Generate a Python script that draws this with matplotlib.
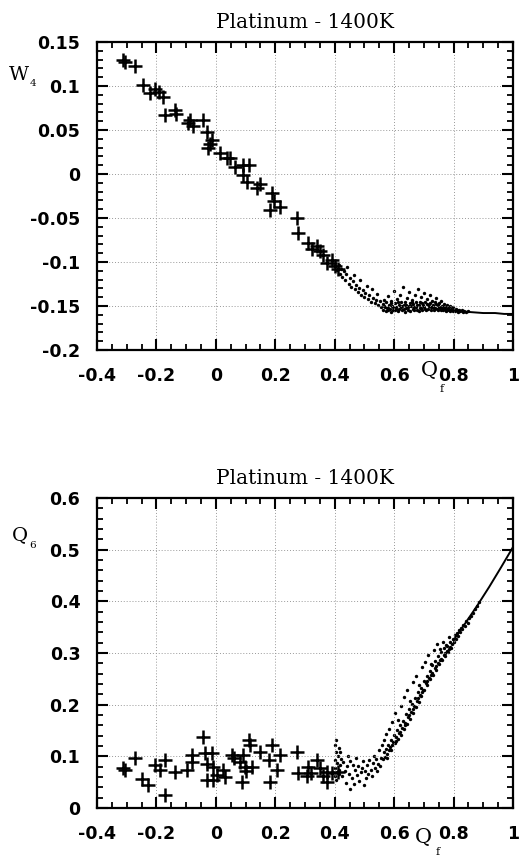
import matplotlib
matplotlib.use("Agg")
import matplotlib.pyplot as plt
from matplotlib.ticker import MultipleLocator

title = "Platinum - 1400K"
x_ticks = [-0.4, -0.2, 0, 0.2, 0.4, 0.6, 0.8, 1]
x_tick_labels = ["-0.4", "-0.2", "0", "0.2", "0.4", "0.6", "0.8", "1"]
w4_ticks = [0.15, 0.1, 0.05, 0, -0.05, -0.1, -0.15, -0.2]
w4_tick_labels = ["0.15", "0.1", "0.05", "0", "-0.05", "-0.1", "-0.15", "-0.2"]
q6_ticks = [0, 0.1, 0.2, 0.3, 0.4, 0.5, 0.6]
q6_tick_labels = ["0", "0.1", "0.2", "0.3", "0.4", "0.5", "0.6"]

# ---- top panel: W4 vs Qf ----
w4_plus_x = [-0.311, -0.305, -0.272, -0.244, -0.205, -0.222, -0.177, -0.190, -0.171, -0.137, -0.135,
             -0.087, -0.077, -0.095, -0.043, -0.031, -0.014, -0.026, -0.020, 0.014, 0.037, 0.047,
             0.065, 0.092, 0.110, 0.090, 0.104, 0.138, 0.149, 0.188, 0.183, 0.216, 0.195,
             0.272, 0.278, 0.311, 0.340, 0.350, 0.373, 0.390, 0.410, 0.400, 0.362, 0.325]
w4_plus_y = [0.129, 0.127, 0.123, 0.101, 0.097, 0.092, 0.088, 0.093, 0.067, 0.073, 0.068,
             0.061, 0.054, 0.058, 0.061, 0.048, 0.039, 0.030, 0.034, 0.024, 0.018, 0.018,
             0.008, 0.010, 0.010, -0.001, -0.009, -0.016, -0.011, -0.022, -0.041, -0.037, -0.031,
             -0.050, -0.067, -0.078, -0.082, -0.088, -0.101, -0.098, -0.108, -0.104, -0.092, -0.085]

w4_dots = [
    (0.402, -0.101), (0.408, -0.109), (0.413, -0.103), (0.417, -0.114), (0.421, -0.108), (0.426, -0.117),
    (0.431, -0.110), (0.434, -0.121), (0.438, -0.114), (0.443, -0.106), (0.447, -0.125), (0.452, -0.118),
    (0.455, -0.128), (0.461, -0.122), (0.464, -0.115), (0.468, -0.131), (0.473, -0.126), (0.477, -0.134),
    (0.481, -0.129), (0.486, -0.121), (0.489, -0.137), (0.494, -0.132), (0.498, -0.140), (0.503, -0.135),
    (0.507, -0.127), (0.512, -0.142), (0.516, -0.138), (0.521, -0.145), (0.525, -0.131), (0.529, -0.141),
    (0.534, -0.147), (0.538, -0.143), (0.543, -0.136), (0.547, -0.149), (0.551, -0.144), (0.556, -0.151),
    (0.561, -0.148), (0.563, -0.154), (0.566, -0.143), (0.568, -0.151), (0.571, -0.156), (0.574, -0.146),
    (0.576, -0.152), (0.579, -0.139), (0.581, -0.155), (0.584, -0.149), (0.586, -0.153), (0.589, -0.144),
    (0.591, -0.157), (0.594, -0.150), (0.597, -0.154), (0.599, -0.133), (0.602, -0.147), (0.604, -0.155),
    (0.607, -0.151), (0.609, -0.142), (0.612, -0.156), (0.615, -0.149), (0.617, -0.153), (0.619, -0.137),
    (0.622, -0.146), (0.625, -0.155), (0.627, -0.150), (0.629, -0.128), (0.632, -0.153), (0.635, -0.145),
    (0.637, -0.157), (0.639, -0.149), (0.642, -0.141), (0.645, -0.154), (0.647, -0.151), (0.649, -0.134),
    (0.652, -0.147), (0.655, -0.156), (0.657, -0.150), (0.659, -0.143), (0.662, -0.153), (0.665, -0.148),
    (0.667, -0.155), (0.669, -0.138), (0.672, -0.151), (0.675, -0.145), (0.677, -0.154), (0.679, -0.131),
    (0.682, -0.149), (0.685, -0.156), (0.687, -0.146), (0.689, -0.152), (0.692, -0.140), (0.695, -0.154),
    (0.697, -0.149), (0.699, -0.135), (0.702, -0.151), (0.705, -0.145), (0.707, -0.155), (0.709, -0.148),
    (0.712, -0.142), (0.715, -0.153), (0.717, -0.150), (0.719, -0.137), (0.722, -0.147), (0.725, -0.154),
    (0.727, -0.151), (0.729, -0.144), (0.732, -0.149), (0.735, -0.155), (0.737, -0.146), (0.739, -0.152),
    (0.742, -0.141), (0.745, -0.153), (0.747, -0.149), (0.749, -0.155), (0.752, -0.147), (0.755, -0.152),
    (0.757, -0.144), (0.759, -0.154), (0.762, -0.150), (0.765, -0.155), (0.767, -0.148), (0.769, -0.153),
    (0.772, -0.151), (0.775, -0.156), (0.777, -0.149), (0.779, -0.154), (0.782, -0.152), (0.785, -0.155),
    (0.787, -0.150), (0.789, -0.156), (0.792, -0.153), (0.795, -0.155), (0.797, -0.151), (0.799, -0.156),
    (0.803, -0.154), (0.806, -0.156), (0.809, -0.153), (0.812, -0.155), (0.816, -0.157), (0.819, -0.154),
    (0.823, -0.156), (0.827, -0.155), (0.831, -0.157), (0.836, -0.156), (0.842, -0.157), (0.848, -0.156),
    (0.565, -0.150), (0.578, -0.152), (0.588, -0.147), (0.596, -0.151), (0.606, -0.153), (0.614, -0.146),
    (0.623, -0.151), (0.634, -0.149), (0.641, -0.152), (0.651, -0.150), (0.661, -0.145), (0.668, -0.151),
    (0.676, -0.149), (0.686, -0.152), (0.694, -0.147), (0.703, -0.153), (0.713, -0.149), (0.723, -0.151),
    (0.733, -0.152), (0.741, -0.148), (0.751, -0.151), (0.761, -0.152), (0.771, -0.153),
]
w4_line_x = [0.78, 0.82, 0.86, 0.90, 0.94, 0.97, 1.00]
w4_line_y = [-0.154, -0.156, -0.157, -0.158, -0.158, -0.159, -0.159]

# ---- bottom panel: Q6 vs Qf ----
q6_plus_x = [-0.311, -0.305, -0.272, -0.250, -0.227, -0.205, -0.188, -0.171, -0.171, -0.137, -0.098,
             -0.081, -0.080, -0.042, -0.036, -0.014, -0.031, -0.030, -0.008, 0.003, -0.008, 0.025,
             0.030, 0.053, 0.060, 0.093, 0.080, 0.110, 0.115, 0.098, 0.100, 0.087, 0.120, 0.149,
             0.188, 0.180, 0.205, 0.216, 0.183, 0.272, 0.278, 0.306, 0.310, 0.340, 0.350, 0.373,
             0.373, 0.390, 0.410, 0.320, 0.360]
q6_plus_y = [0.077, 0.073, 0.096, 0.057, 0.045, 0.083, 0.074, 0.093, 0.025, 0.070, 0.074,
             0.103, 0.090, 0.137, 0.106, 0.106, 0.086, 0.054, 0.080, 0.064, 0.054, 0.074,
             0.060, 0.103, 0.096, 0.103, 0.090, 0.132, 0.122, 0.080, 0.072, 0.051, 0.080, 0.109,
             0.122, 0.093, 0.074, 0.103, 0.051, 0.109, 0.067, 0.061, 0.080, 0.093, 0.077, 0.070,
             0.051, 0.067, 0.070, 0.068, 0.062]

q6_dots = [
    (0.401, 0.062), (0.402, 0.078), (0.400, 0.093), (0.403, 0.108), (0.401, 0.121), (0.404, 0.131),
    (0.407, 0.070), (0.409, 0.088), (0.411, 0.101), (0.413, 0.116), (0.416, 0.066), (0.418, 0.083),
    (0.421, 0.095), (0.419, 0.109), (0.406, 0.055), (0.414, 0.074),
    (0.426, 0.061), (0.429, 0.089), (0.433, 0.072), (0.437, 0.049), (0.441, 0.081), (0.444, 0.100),
    (0.447, 0.066), (0.451, 0.091), (0.453, 0.036), (0.457, 0.058), (0.461, 0.084), (0.465, 0.046),
    (0.468, 0.074), (0.472, 0.096), (0.476, 0.063), (0.479, 0.081), (0.483, 0.053), (0.487, 0.069),
    (0.491, 0.077), (0.495, 0.091), (0.498, 0.044), (0.502, 0.071), (0.506, 0.058), (0.509, 0.083),
    (0.513, 0.066), (0.517, 0.093), (0.521, 0.074), (0.524, 0.061), (0.528, 0.088), (0.532, 0.101),
    (0.535, 0.077), (0.539, 0.094), (0.543, 0.071), (0.546, 0.086), (0.549, 0.112), (0.553, 0.082),
    (0.556, 0.097), (0.559, 0.121),
    (0.562, 0.094), (0.565, 0.108), (0.567, 0.131), (0.569, 0.099), (0.572, 0.115), (0.574, 0.143),
    (0.577, 0.104), (0.579, 0.121), (0.582, 0.112), (0.584, 0.152), (0.587, 0.118), (0.589, 0.131),
    (0.592, 0.121), (0.594, 0.166), (0.597, 0.128), (0.599, 0.142), (0.602, 0.125), (0.604, 0.183),
    (0.607, 0.138), (0.609, 0.151), (0.612, 0.133), (0.614, 0.171), (0.617, 0.146), (0.619, 0.161),
    (0.622, 0.142), (0.624, 0.197), (0.627, 0.155), (0.629, 0.169), (0.632, 0.152), (0.634, 0.214),
    (0.637, 0.164), (0.639, 0.181), (0.642, 0.162), (0.644, 0.228), (0.647, 0.176), (0.649, 0.192),
    (0.652, 0.173), (0.654, 0.207), (0.657, 0.186), (0.659, 0.201), (0.662, 0.183), (0.664, 0.243),
    (0.667, 0.197), (0.669, 0.213), (0.672, 0.195), (0.674, 0.256), (0.677, 0.208), (0.679, 0.224),
    (0.682, 0.205), (0.684, 0.238), (0.687, 0.219), (0.689, 0.233), (0.692, 0.216), (0.694, 0.272),
    (0.697, 0.229), (0.699, 0.246), (0.702, 0.228), (0.704, 0.283), (0.707, 0.241), (0.709, 0.256),
    (0.712, 0.238), (0.714, 0.297), (0.717, 0.251), (0.719, 0.266), (0.722, 0.249), (0.724, 0.279),
    (0.727, 0.262), (0.729, 0.276), (0.732, 0.258), (0.734, 0.306), (0.737, 0.271), (0.739, 0.285),
    (0.742, 0.268), (0.744, 0.318), (0.747, 0.281), (0.749, 0.294), (0.752, 0.279), (0.754, 0.308),
    (0.757, 0.289), (0.759, 0.301), (0.762, 0.287), (0.764, 0.322), (0.767, 0.297), (0.769, 0.309),
    (0.772, 0.295), (0.774, 0.316), (0.777, 0.303), (0.779, 0.313), (0.782, 0.301), (0.784, 0.331),
    (0.787, 0.311), (0.789, 0.321), (0.792, 0.309), (0.795, 0.318), (0.797, 0.327), (0.801, 0.322),
    (0.804, 0.334), (0.807, 0.328), (0.811, 0.339), (0.814, 0.333), (0.818, 0.345), (0.822, 0.341),
    (0.826, 0.349), (0.829, 0.346), (0.833, 0.354), (0.838, 0.352), (0.842, 0.361), (0.847, 0.359),
    (0.852, 0.368), (0.858, 0.371), (0.865, 0.378), (0.872, 0.386), (0.879, 0.391), (0.886, 0.399),
    (0.575, 0.097), (0.590, 0.112), (0.605, 0.130), (0.620, 0.148), (0.635, 0.160), (0.650, 0.180),
    (0.665, 0.191), (0.680, 0.212), (0.695, 0.225), (0.710, 0.245), (0.725, 0.258), (0.740, 0.275),
    (0.755, 0.286), (0.770, 0.300), (0.785, 0.307),
]
q6_line_x = [0.80, 0.84, 0.88, 0.92, 0.96, 1.00]
q6_line_y = [0.325, 0.358, 0.392, 0.428, 0.466, 0.505]

# ---------------- drawing ----------------
W, H = 524, 866
fig = plt.figure(figsize=(W / 100, H / 100), dpi=100)
fig.patch.set_facecolor("white")

tick_font = dict(family="DejaVu Sans", weight="bold", size=12.5)
serif = ["DejaVu Serif"]


def style_axes(ax, yticks, ylabels, ymin, ymax, yminor):
    ax.set_xlim(-0.4, 1.0)
    ax.set_ylim(ymin, ymax)
    ax.set_xticks(x_ticks)
    ax.set_xticklabels(x_tick_labels, fontdict=tick_font)
    ax.set_yticks(yticks)
    ax.set_yticklabels(ylabels, fontdict=tick_font)
    ax.xaxis.set_minor_locator(MultipleLocator(0.05))
    ax.yaxis.set_minor_locator(MultipleLocator(yminor))
    ax.tick_params(which="major", direction="in", length=8, width=1.5,
                   top=True, right=True, pad=12)
    ax.tick_params(which="minor", direction="in", length=4, width=1.3,
                   top=True, right=True)
    ax.grid(True, which="major", linestyle=(0, (1, 2)), color="#999999", linewidth=0.7)
    for s in ax.spines.values():
        s.set_linewidth(1.6)
    ax.set_title(title, family=serif, fontsize=14.5, pad=10)


def to_fig(px, py):
    return px / W, 1 - py / H


def draw(ax, dots, line_x, line_y, plus_x, plus_y):
    dx = [p[0] for p in dots]
    dy = [p[1] for p in dots]
    ax.plot(line_x, line_y, color="black", linewidth=1.4)
    ax.scatter(dx, dy, s=6, color="black", linewidths=0)
    ax.plot(plus_x, plus_y, linestyle="none", marker="+", markersize=10,
            markeredgewidth=1.8, color="black")


# top
ax1 = fig.add_axes([97 / W, 1 - 350 / H, (513 - 97) / W, (350 - 42) / H])
style_axes(ax1, w4_ticks, w4_tick_labels, -0.2, 0.15, 0.01)
draw(ax1, w4_dots, w4_line_x, w4_line_y, w4_plus_x, w4_plus_y)

# bottom
ax2 = fig.add_axes([97 / W, 1 - 808 / H, (513 - 97) / W, (808 - 498) / H])
style_axes(ax2, q6_ticks, q6_tick_labels, 0.0, 0.6, 0.02)
draw(ax2, q6_dots, q6_line_x, q6_line_y, q6_plus_x, q6_plus_y)

# axis labels (placed like the original)
fig.text(*to_fig(19, 75), "W", family=serif, fontsize=14, ha="center", va="center")
fig.text(*to_fig(33, 84), "4", family=serif, fontsize=7.5, ha="center", va="center")
fig.text(*to_fig(429, 370), "Q", family=serif, fontsize=15, ha="center", va="center")
fig.text(*to_fig(442, 389), "f", family=serif, fontsize=8, ha="center", va="center")
fig.text(*to_fig(20, 535), "Q", family=serif, fontsize=14, ha="center", va="center")
fig.text(*to_fig(33, 545), "6", family=serif, fontsize=7.5, ha="center", va="center")
fig.text(*to_fig(423, 837), "Q", family=serif, fontsize=15, ha="center", va="center")
fig.text(*to_fig(438, 852), "f", family=serif, fontsize=8, ha="center", va="center")

fig.savefig("out.png", dpi=100)
